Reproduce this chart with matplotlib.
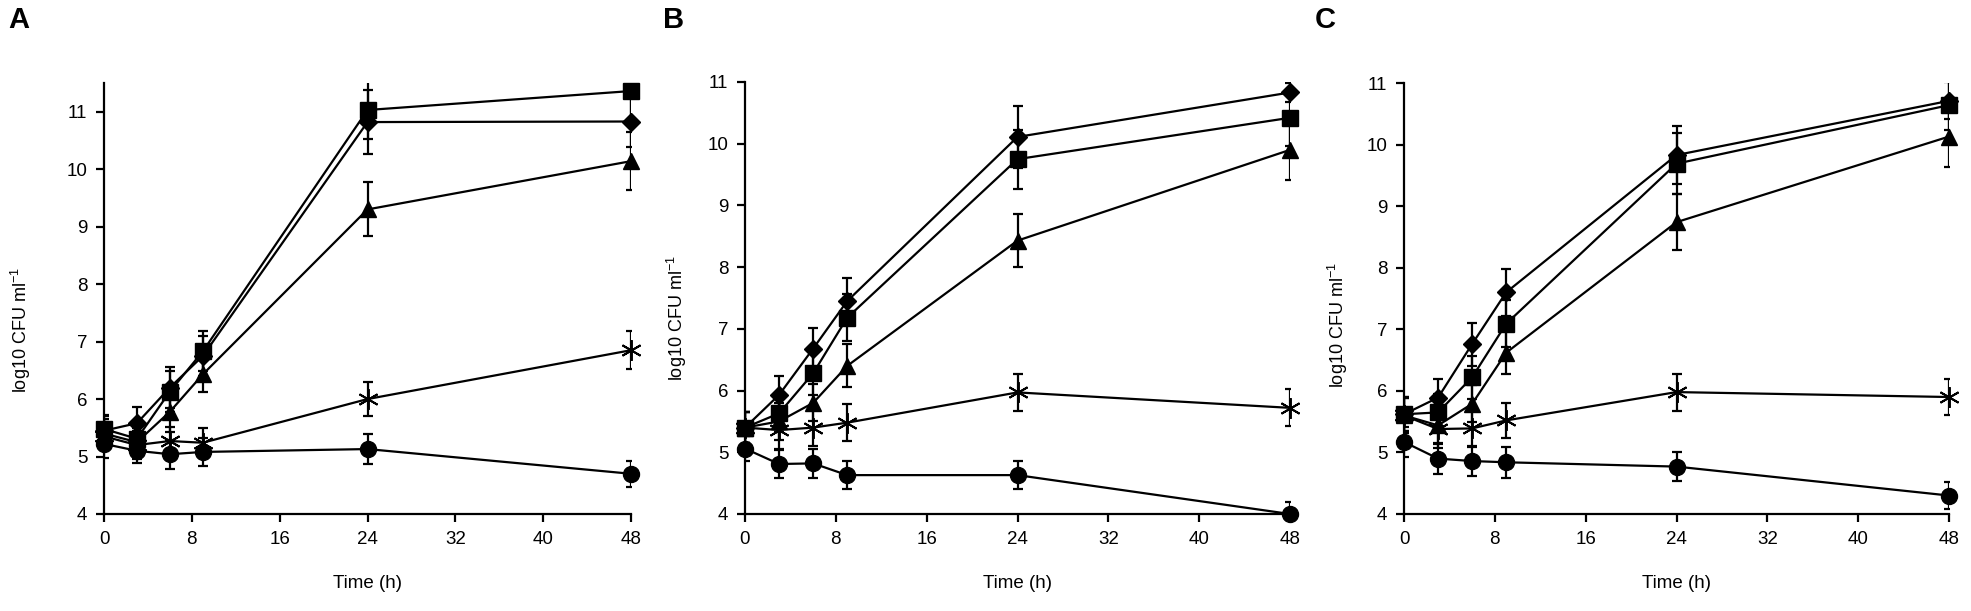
import numpy as np
import matplotlib
matplotlib.use("Agg")
import matplotlib.pyplot as plt

plt.rcParams['font.family'] = ['Liberation Sans', 'DejaVu Sans']
plt.rcParams['mathtext.default'] = 'regular'

# sampling times (h)
time_h = [0, 3, 6, 9, 24, 48]

# panel A: means and error bars
a_diamond = [5.45, 5.58, 6.20, 6.75, 10.82, 10.83]
a_diamond_err = [0.25, 0.28, 0.35, 0.35, 0.55, 0.45]
a_square = [5.48, 5.31, 6.13, 6.83, 11.03, 11.36]
a_square_err = [0.25, 0.30, 0.35, 0.35, 0.50, 0.50]
a_triangle = [5.40, 5.25, 5.78, 6.43, 9.30, 10.14]
a_triangle_err = [0.25, 0.25, 0.35, 0.30, 0.47, 0.50]
a_star = [5.35, 5.20, 5.27, 5.24, 6.00, 6.85]
a_star_err = [0.25, 0.25, 0.25, 0.25, 0.30, 0.33]
a_circle = [5.22, 5.10, 5.04, 5.08, 5.13, 4.70]
a_circle_err = [0.25, 0.22, 0.25, 0.25, 0.26, 0.23]

# panel B
b_diamond = [5.40, 5.93, 6.68, 7.45, 10.11, 10.83]
b_diamond_err = [0.25, 0.30, 0.33, 0.38, 0.50, 0.15]
b_square = [5.40, 5.63, 6.28, 7.18, 9.75, 10.42]
b_square_err = [0.25, 0.30, 0.35, 0.38, 0.48, 0.45]
b_triangle = [5.40, 5.50, 5.80, 6.40, 8.43, 9.90]
b_triangle_err = [0.25, 0.30, 0.30, 0.35, 0.43, 0.48]
b_star = [5.40, 5.36, 5.40, 5.48, 5.97, 5.72]
b_star_err = [0.25, 0.30, 0.30, 0.30, 0.30, 0.30]
b_circle = [5.06, 4.81, 4.82, 4.63, 4.63, 4.00]
b_circle_err = [0.20, 0.23, 0.23, 0.23, 0.23, 0.20]

# panel C
c_diamond = [5.62, 5.89, 6.76, 7.60, 9.83, 10.71]
c_diamond_err = [0.28, 0.30, 0.35, 0.38, 0.47, 0.30]
c_square = [5.62, 5.65, 6.22, 7.09, 9.69, 10.64]
c_square_err = [0.28, 0.30, 0.35, 0.38, 0.50, 0.40]
c_triangle = [5.60, 5.44, 5.79, 6.62, 8.74, 10.13]
c_triangle_err = [0.28, 0.30, 0.30, 0.35, 0.45, 0.50]
c_star = [5.60, 5.38, 5.39, 5.52, 5.98, 5.90]
c_star_err = [0.28, 0.30, 0.30, 0.28, 0.30, 0.30]
c_circle = [5.17, 4.90, 4.86, 4.84, 4.77, 4.30]
c_circle_err = [0.25, 0.25, 0.25, 0.25, 0.23, 0.22]

panel_letters = ['A', 'B', 'C']
x_ticks = [0, 8, 16, 24, 32, 40, 48]
y_ticks = [4, 5, 6, 7, 8, 9, 10, 11]

star_marker = (6, 2, 0)
marker_styles = [('D', 9.5), ('s', 11), ('^', 11), (star_marker, 15), ('o', 11.5)]

panels = [
    ([a_diamond, a_square, a_triangle, a_star, a_circle],
     [a_diamond_err, a_square_err, a_triangle_err, a_star_err, a_circle_err], 11.5),
    ([b_diamond, b_square, b_triangle, b_star, b_circle],
     [b_diamond_err, b_square_err, b_triangle_err, b_star_err, b_circle_err], 11.0),
    ([c_diamond, c_square, c_triangle, c_star, c_circle],
     [c_diamond_err, c_square_err, c_triangle_err, c_star_err, c_circle_err], 11.0),
]

W, H = 1971, 611
fig = plt.figure(figsize=(W / 100, H / 100), dpi=100)

# axes boxes in pixels: left, right, top
boxes = [(104, 631, 83), (745, 1290, 82), (1404, 1949, 83)]
bottom_px = 514
ylabel_x = [21, 677, 1338]
ylabel_y = [330, 318, 325]
letter_x = [8, 663, 1315]

for i, (series, errs, ytop) in enumerate(panels):
    l, r, t = boxes[i]
    ax = fig.add_axes([l / W, 1 - bottom_px / H, (r - l) / W, (bottom_px - t) / H])
    for (m, ms), y, e in zip(marker_styles, series, errs):
        # error bars are clipped to the plot area, markers are not
        ax.errorbar(time_h, y, yerr=e, fmt='none', ecolor='black',
                    elinewidth=1.6, capsize=3.5, capthick=1.6)
        ax.plot(time_h, y, color='black', lw=1.6, marker=m, ms=ms,
                mew=1.4 if m == star_marker else 1.0, mfc='black', mec='black',
                clip_on=False, zorder=3)
    ax.set_xlim(0, 48)
    ax.set_ylim(4, ytop)
    ax.set_xticks(x_ticks)
    ax.set_yticks(y_ticks)
    for s in ['top', 'right']:
        ax.spines[s].set_visible(False)
    for s in ['left', 'bottom']:
        ax.spines[s].set_linewidth(1.6)
    ax.tick_params(direction='out', length=6, width=1.6, labelsize=13.5, pad=6)
    ax.set_xlabel('Time (h)', fontsize=13.5, labelpad=20)
    fig.text(ylabel_x[i] / W, 1 - ylabel_y[i] / H, 'log10 CFU ml$^{-1}$', rotation=90,
             fontsize=13, ha='center', va='center')
    fig.text(letter_x[i] / W, 1 - 20 / H, panel_letters[i], fontsize=21,
             fontweight='bold', ha='left', va='center')

fig.savefig('out.png', dpi=100)
